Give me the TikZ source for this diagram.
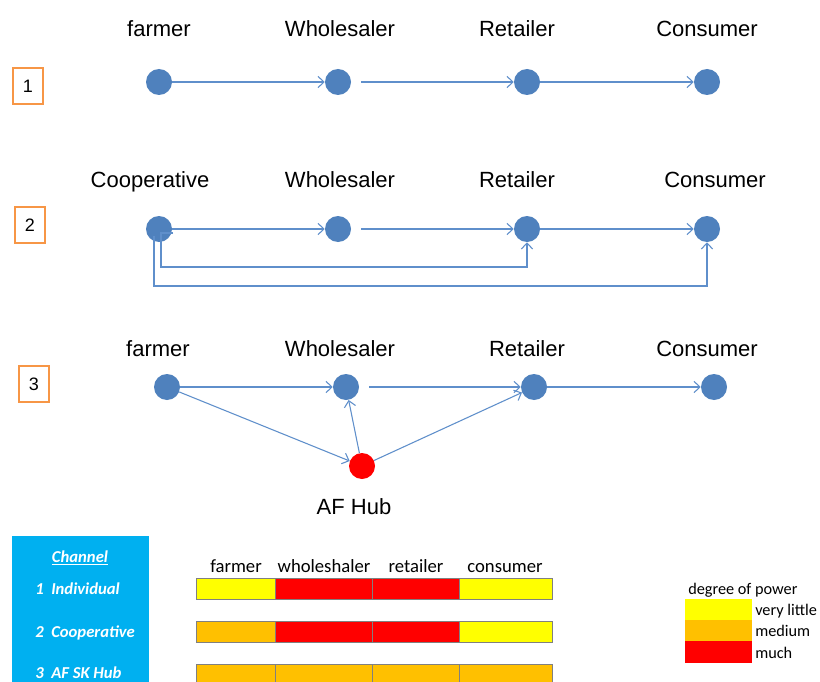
\documentclass[tikz,border=0pt]{standalone}
\usepackage{fontspec}
\setmainfont{Liberation Sans}
\newfontfamily\calib{Carlito}
\usetikzlibrary{arrows.meta}
\definecolor{nodeblue}{HTML}{4F81BD}
\definecolor{linkblue}{HTML}{5F8FCB}
\definecolor{boxorange}{HTML}{F79646}
\definecolor{pyellow}{HTML}{FFFF00}
\definecolor{porange}{HTML}{FFC000}
\definecolor{pred}{HTML}{FF0000}
\definecolor{chancyan}{HTML}{00B0F0}
\tikzset{
  actor/.style={circle,fill=nodeblue,minimum size=19.5pt,inner sep=0pt},
  hub/.style={actor,fill=pred},
  role/.style={anchor=base,inner sep=0pt,font=\fontsize{16.5}{19}\selectfont},
  numbox/.style={draw=boxorange,line width=1.6pt,minimum width=22pt,minimum height=27pt,inner sep=0pt,font=\fontsize{13.5}{16}\selectfont},
  link/.style={draw=linkblue,line width=0.8pt,-{Straight Barb[length=4.5pt,width=8.5pt]}},
  gap/.style={shorten <=7.5pt},
  chan/.style={anchor=base west,inner sep=0pt,text=white,font=\calib\bfseries\itshape\fontsize{12.5}{15}\selectfont},
  head/.style={anchor=base,inner sep=0pt,font=\calib\fontsize{14}{17}\selectfont},
  legtext/.style={anchor=base west,inner sep=0pt,font=\calib\fontsize{12.2}{15}\selectfont},
  cell/.style={draw=black!50,line width=0.6pt}
}
\begin{document}
\begin{tikzpicture}[x=0.75pt,y=-0.75pt]
\clip (0,0) rectangle (820,681);
\fill[white] (0,0) rectangle (820,681);

% ---- channel 1: farmer -> wholesaler -> retailer -> consumer
\node[numbox] (n1) at (28,86) {1};
\node[role] (l1a) at (159,37) {farmer};
\node[role] (l1b) at (340,37) {Wholesaler};
\node[role] (l1c) at (517,37) {Retailer};
\node[role] (l1d) at (707,37) {Consumer};
\node[actor] (f1) at (159,82) {};
\node[actor] (w1) at (338,82) {};
\node[actor] (r1) at (527,82) {};
\node[actor] (c1) at (707,82) {};
\draw[link] (f1) -- (w1);
\draw[link,gap] (w1) -- (r1);
\draw[link] (r1) -- (c1);

% ---- channel 2: cooperative with direct routes
\node[numbox] (n2) at (30,225) {2};
\node[role] (l2a) at (150,187) {Cooperative};
\node[role] (l2b) at (340,187) {Wholesaler};
\node[role] (l2c) at (517,187) {Retailer};
\node[role] (l2d) at (715,187) {Consumer};
\node[actor] (f2) at (159,229) {};
\node[actor] (w2) at (338,229) {};
\node[actor] (r2) at (527,229) {};
\node[actor] (c2) at (707,229) {};
\draw[link] (f2) -- (w2);
\draw[link,gap] (w2) -- (r2);
\draw[link] (r2) -- (c2);
\coordinate (hk) at (173,233);
\coordinate (ob) at (154,236);
\draw[link] (hk) -- (161,233) -- (161,267) -| (r2.south);
\draw[link] (ob) -- (154,286) -| (c2.south);

% ---- channel 3: through the AF hub
\node[numbox] (n3) at (34,384) {3};
\node[role] (l3a) at (158,356) {farmer};
\node[role] (l3b) at (340,356) {Wholesaler};
\node[role] (l3c) at (527,356) {Retailer};
\node[role] (l3d) at (707,356) {Consumer};
\node[actor] (f3) at (167,387) {};
\node[actor] (w3) at (346,387) {};
\node[actor] (r3) at (534,387) {};
\node[actor] (c3) at (714,387) {};
\node[hub] (h3) at (362,466) {};
\node[role] (lh) at (354,514) {AF Hub};
\draw[link] (f3) -- (w3);
\draw[link,gap] (w3) -- (r3);
\draw[link] (r3) -- (c3);
\draw[link] (f3) -- (h3);
\draw[link] (h3) -- (w3);
\draw[link] (h3) -- (r3);

% ---- channel list
\fill[chancyan] (12,536) rectangle (149,700);
\node[anchor=base,inner sep=0pt,text=white,font=\calib\bfseries\itshape\fontsize{12.5}{15}\selectfont] (ch) at (80,562) {\underline{Channel}};
\node[chan] (ch1) at (35,594) {1\ \ Individual};
\node[chan] (ch2) at (35,637) {2\ \ Cooperative};
\node[chan] (ch3) at (35,678) {3\ \ AF SK Hub};

% ---- power table
\node[head] (ha) at (236,572) {farmer};
\node[head] (hb) at (324,572) {wholeshaler};
\node[head] (hc) at (416,572) {retailer};
\node[head] (hd) at (505,572) {consumer};
% row 1
\draw[cell,fill=pyellow] (196,578) rectangle (275,599);
\draw[cell,fill=pred]    (275,578) rectangle (372,599);
\draw[cell,fill=pred]    (372,578) rectangle (459,599);
\draw[cell,fill=pyellow] (459,578) rectangle (552,599);
% row 2
\draw[cell,fill=porange] (196,621) rectangle (275,642);
\draw[cell,fill=pred]    (275,621) rectangle (372,642);
\draw[cell,fill=pred]    (372,621) rectangle (459,642);
\draw[cell,fill=pyellow] (459,621) rectangle (552,642);
% row 3
\draw[cell,fill=porange] (196,664) rectangle (275,685);
\draw[cell,fill=porange] (275,664) rectangle (372,685);
\draw[cell,fill=porange] (372,664) rectangle (459,685);
\draw[cell,fill=porange] (459,664) rectangle (552,685);

% ---- legend
\node[legtext] (lg) at (688,594) {degree of power};
\fill[pyellow] (685,599) rectangle (752,620);
\fill[porange] (685,620) rectangle (752,641);
\fill[pred]    (685,641) rectangle (752,663);
\node[legtext] (lg1) at (755,615) {very little};
\node[legtext] (lg2) at (755,636) {medium};
\node[legtext] (lg3) at (755,658) {much};
\end{tikzpicture}
\end{document}
